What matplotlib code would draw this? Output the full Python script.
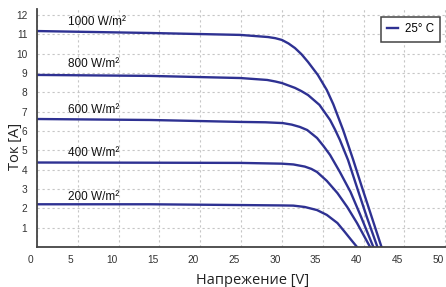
import matplotlib
matplotlib.use("Agg")
import matplotlib.pyplot as plt
import matplotlib.transforms as mtransforms

# ---- data ----
v_1000 = [0, 13.85, 24.9, 28.3, 29.2, 30.0, 30.8, 31.6, 32.4, 33.2, 34.4, 35.5, 36.3, 37.5, 38.7, 39.8, 41.0, 42.2]
i_1000 = [11.17, 11.07, 10.97, 10.86, 10.80, 10.71, 10.53, 10.29, 9.97, 9.57, 8.90, 8.12, 7.38, 6.05, 4.55, 3.10, 1.55, 0]

v_800 = [0, 13.85, 24.9, 28.2, 29.2, 30.0, 31.6, 32.4, 33.2, 34.6, 35.9, 36.5, 37.1, 38.1, 39.3, 40.4, 41.7]
i_800 = [8.90, 8.85, 8.74, 8.64, 8.56, 8.48, 8.23, 8.06, 7.86, 7.35, 6.57, 6.08, 5.54, 4.50, 2.95, 1.55, 0]

v_600 = [0, 13.85, 24.9, 28.0, 30.1, 31.2, 32.2, 33.1, 34.3, 35.1, 35.9, 37.1, 38.4, 39.6, 41.2]
i_600 = [6.62, 6.57, 6.47, 6.45, 6.41, 6.33, 6.21, 6.05, 5.64, 5.22, 4.76, 3.88, 2.85, 1.66, 0]

v_400 = [0, 13.85, 24.9, 30.0, 31.4, 32.8, 33.6, 34.3, 35.5, 36.8, 38.0, 39.2, 40.8]
i_400 = [4.37, 4.36, 4.35, 4.31, 4.27, 4.16, 4.04, 3.88, 3.42, 2.79, 2.07, 1.24, 0]

v_200 = [0, 13.85, 24.9, 30.0, 31.4, 32.8, 34.3, 35.5, 36.8, 37.7, 38.5, 39.2]
i_200 = [2.21, 2.21, 2.17, 2.15, 2.14, 2.07, 1.91, 1.66, 1.24, 0.78, 0.36, 0]

curve_labels = ["1000 W/m²", "800 W/m²", "600 W/m²", "400 W/m²", "200 W/m²"]
label_x = [3.8, 3.8, 3.8, 3.8, 3.8]
label_y = [11.64, 9.47, 7.09, 4.86, 2.59]

x_ticks = [0, 5, 10, 15, 20, 25, 30, 35, 40, 45, 50]
y_ticks = [1, 2, 3, 4, 5, 6, 7, 8, 9, 10, 11, 12]
legend_label = "25° C"
x_title = "Напрежение [V]"
y_title = "Ток [A]"

# ---- figure ----
W, H = 446, 287
fig = plt.figure(figsize=(W / 100, H / 100), dpi=100)
ax = fig.add_axes([37 / W, 40 / H, 409 / W, 237.8 / H])
ax.set_xlim(0, 50.1)
ax.set_ylim(0, 12.3)

blue = "#2e3192"
series = [(v_1000, i_1000), (v_800, i_800), (v_600, i_600), (v_400, i_400), (v_200, i_200)]
for k, (v, i) in enumerate(series):
    ax.plot(v, i, color=blue, lw=1.7, solid_joinstyle="round",
            label=legend_label if k == 0 else None)

for txt, x, y in zip(curve_labels, label_x, label_y):
    ax.text(x, y, txt, fontsize=8.5, family="Liberation Sans", color="#111",
            va="center", ha="left")

ax.set_xticks(x_ticks)
ax.set_yticks(y_ticks)
ax.grid(True, color="#c6c6c6", linestyle=(0, (2, 2.5)), lw=0.8)
ax.tick_params(length=0, labelsize=7.3, labelcolor="#333", pad=7)
ax.tick_params(axis="x", pad=6)
for lbl in ax.get_xticklabels() + ax.get_yticklabels():
    lbl.set_family("Liberation Sans")
offset = mtransforms.ScaledTranslation(-7 / 100, 0, fig.dpi_scale_trans)
for lbl in ax.xaxis.get_majorticklabels():
    lbl.set_transform(lbl.get_transform() + offset)

for s in ["top", "right"]:
    ax.spines[s].set_visible(False)
for s in ["left", "bottom"]:
    ax.spines[s].set_color("#444")
    ax.spines[s].set_linewidth(1.3)

fig.text(253 / W, 1 - 280 / H, x_title, fontsize=10.5, family="Open Sans",
         color="#222", ha="center", va="center")
fig.text(15 / W, 1 - 146 / H, y_title, fontsize=10.5, family="Open Sans",
         color="#222", ha="center", va="center", rotation=90)

leg = ax.legend(loc="upper right", bbox_to_anchor=(440 / W, 1 - 17 / H),
                bbox_transform=fig.transFigure, borderaxespad=0,
                handlelength=0.9, handletextpad=0.6, borderpad=0.55,
                fancybox=False, framealpha=1, edgecolor="#444",
                prop={"family": "Liberation Sans", "size": 8.3})
leg.get_frame().set_linewidth(1.1)

fig.savefig("out.png", dpi=100)
